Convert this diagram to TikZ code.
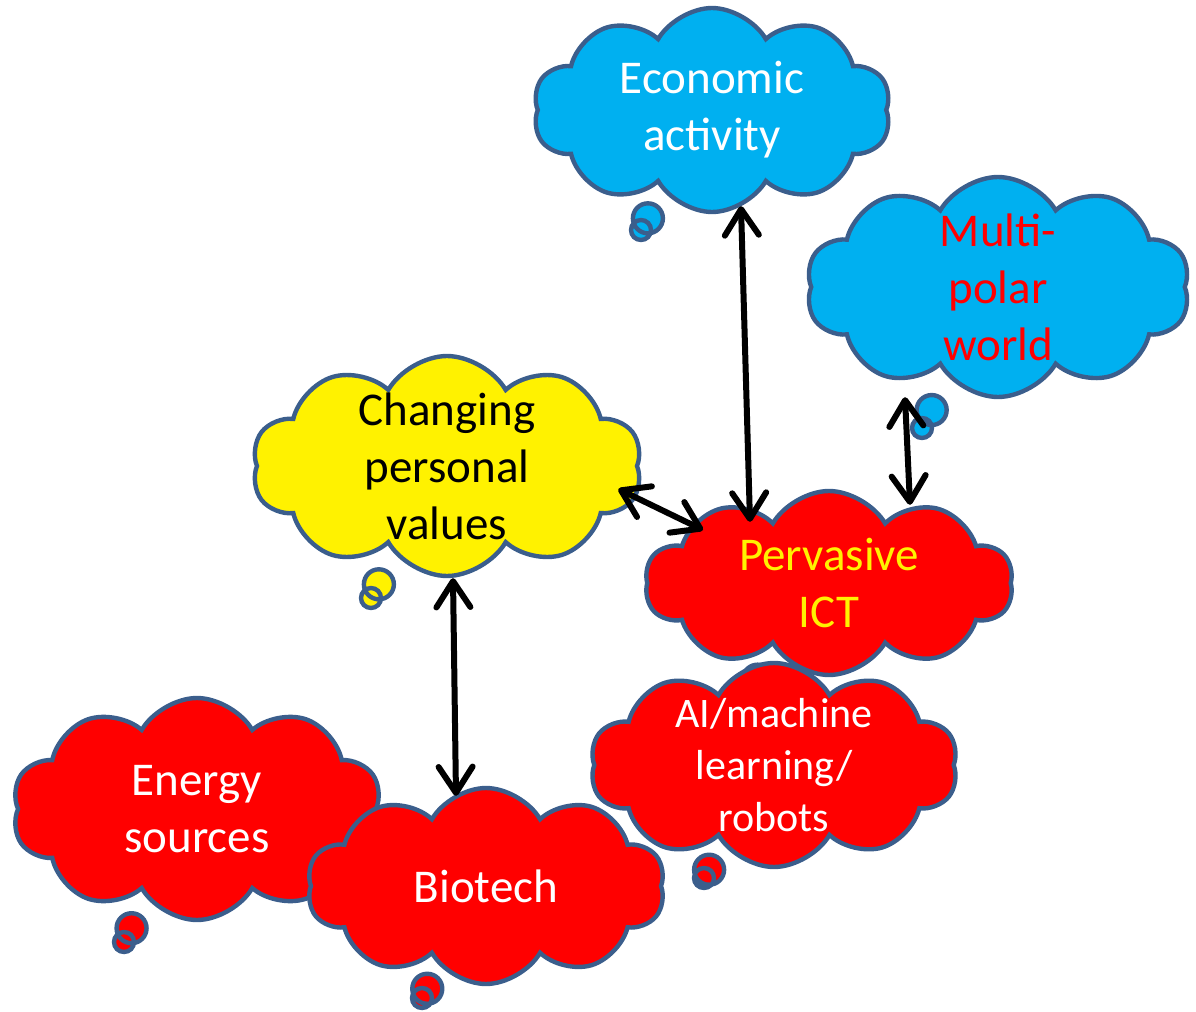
\documentclass[tikz,border=0pt]{standalone}
\usepackage{fontspec}
\setmainfont{Carlito}
\usepackage{xcolor}
\usetikzlibrary{calc,arrows.meta,shapes.symbols,shapes.callouts}
\definecolor{puffline}{RGB}{59,94,140}
\definecolor{skyblue}{RGB}{0,176,240}
\tikzset{
  line/.style={{Straight Barb[length=13pt,width=17pt,round]}-{Straight Barb[length=13pt,width=17pt,round]}, line width=3pt},
  bubble/.style={cloud callout, cloud puffs=10, cloud puff arc=120, cloud ignores aspect,
    draw=puffline, line width=2.2pt, align=center, inner sep=0pt,
    font=\fontsize{23.5}{28.5}\selectfont,
    callout pointer segments=2,
    callout pointer start size=22pt and 20pt, callout pointer end size=10pt and 10pt},
  bluebubble/.style={bubble, fill=skyblue},
  redbubble/.style={bubble, fill=red},
  yellowbubble/.style={bubble, fill=yellow}
}

\begin{document}
\begin{tikzpicture}[x=0.5pt,y=-0.5pt]
  \useasboundingbox (0,0) rectangle (1196,1012);

  \node[bluebubble, text=white, minimum width=179pt, minimum height=102pt,
    callout absolute pointer={(641,230)}] (eco) at (712,110) {Economic\\activity};
  \node[bluebubble, text=red, minimum width=192pt, minimum height=110pt, inner ysep=-12pt,
    callout absolute pointer={(922,428)}] (multi) at (998,287) {Multi-\\polar\\world};
  \node[yellowbubble, text=black, minimum width=195pt, minimum height=110pt, inner ysep=-12pt,
    callout absolute pointer={(371,598)}] (values) at (447,466) {Changing\\personal\\values};
  \node[redbubble, text=yellow, minimum width=184pt, minimum height=92pt,
    callout absolute pointer={(750,690)}] (ict) at (829,583) {Pervasive\\ICT};
  \node[redbubble, text=white, minimum width=184pt, minimum height=102pt, inner ysep=-12pt,
    font=\fontsize{21}{26}\selectfont,
    callout absolute pointer={(704,878)}] (ai) at (774,765) {AI/machine\\learning/\\robots};
  \node[redbubble, text=white, minimum width=185pt, minimum height=111pt,
    callout absolute pointer={(124,942)}] (energy) at (197,809) {Energy\\sources};
  \node[redbubble, text=white, minimum width=179pt, minimum height=98pt,
    callout absolute pointer={(422,998)}] (bio) at (486,886) {Biotech};

  \draw[line] ($(eco.south)+(29,-8)$) -- ($(ict.north)+(-79,33)$);
  \draw[line] ($(multi.south)+(-93,-2)$) -- ($(ict.north)+(81,16)$);
  \draw[line] ($(values.east)+(-21,23)$) -- ($(ict.west)+(58,-53)$);
  \draw[line] ($(values.south)+(6,0)$) -- ($(bio.north)+(-30,10)$);
\end{tikzpicture}
\end{document}
